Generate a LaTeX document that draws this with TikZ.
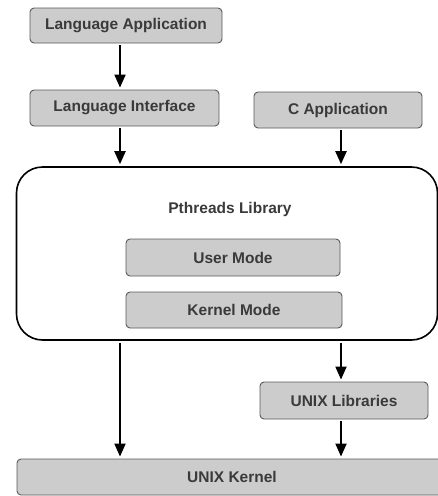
\documentclass[tikz,border=0pt]{standalone}
\usepackage{fontspec}
\setmainfont{Liberation Sans}
\usetikzlibrary{arrows.meta}
\definecolor{boxfill}{HTML}{CCCCCC}
\definecolor{boxline}{HTML}{5A5A5A}
\definecolor{boxtext}{HTML}{3A3A3A}
\begin{document}
\begin{tikzpicture}[x=1pt,y=-1pt,
	graybox/.style={draw=boxline,fill=boxfill,line width=0.9pt,rounded corners=4pt,
		text=boxtext,font=\fontsize{15.5}{18}\selectfont\bfseries,inner sep=0pt},
	arr/.style={-{Triangle[length=13pt,width=11pt]},line width=2pt,shorten <=2pt,shorten >=2pt}]
	\useasboundingbox (0,0) rectangle (438,496);
	% columns of the arrows
	\coordinate (colL) at (120,0);
	\coordinate (colR) at (341,0);
	% boxes
	\node[graybox,minimum width=192pt,minimum height=35pt] (langapp) at (126,25.5) {Language Application};
	\node[graybox,minimum width=189pt,minimum height=36pt] (langif) at (124.5,108) {Language Interface};
	\node[graybox,minimum width=168pt,minimum height=36pt] (capp) at (338,110) {C Application};
	\node[draw,line width=1.6pt,rounded corners=26pt,minimum width=421pt,minimum height=173pt] (pthreads) at (227,253.5) {};
	\node[text=boxtext,font=\fontsize{15.5}{18}\selectfont\bfseries] (ptlabel) at (230,209) {Pthreads Library};
	\node[graybox,minimum width=214pt,minimum height=37pt] (user) at (233,257.5) {User Mode};
	\node[graybox,minimum width=216pt,minimum height=36pt] (kernelmode) at (234,310) {Kernel Mode};
	\node[graybox,minimum width=168pt,minimum height=37pt] (unixlib) at (344,400.5) {UNIX Libraries};
	\node[graybox,minimum width=430pt,minimum height=36pt] (unixk) at (232,477) {UNIX Kernel};
	% connectors
	\draw[arr] (langapp.south -| colL) -- (langif.north -| colL);
	\draw[arr] (langif.south -| colL) -- (pthreads.north -| colL);
	\draw[arr] (capp.south -| colR) -- (pthreads.north -| colR);
	\draw[arr] (pthreads.south -| colL) -- (unixk.north -| colL);
	\draw[arr] (pthreads.south -| colR) -- (unixlib.north -| colR);
	\draw[arr] (unixlib.south -| colR) -- (unixk.north -| colR);
\end{tikzpicture}
\end{document}
